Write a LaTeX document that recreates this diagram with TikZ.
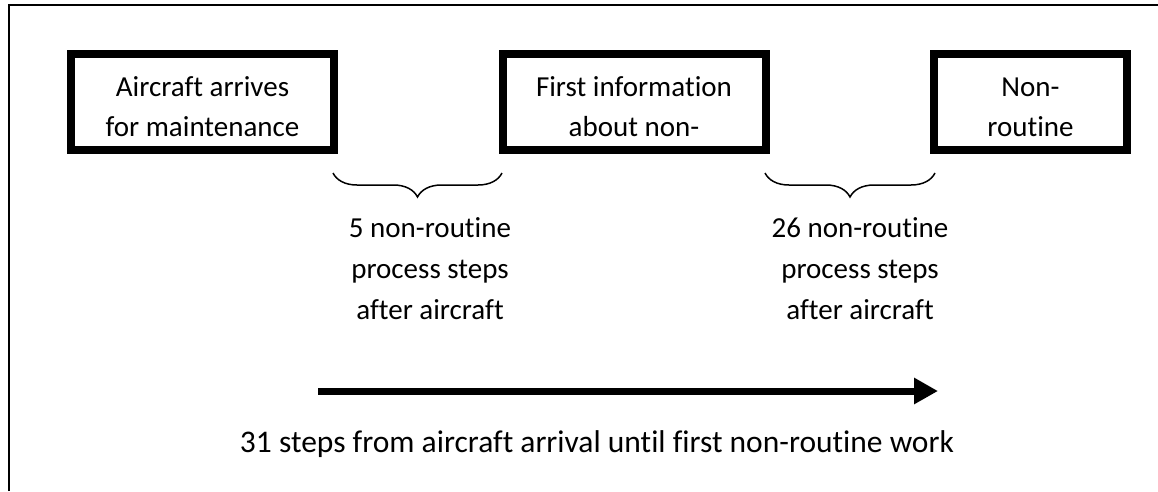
\documentclass[tikz,border=0pt]{standalone}
\usepackage{fontspec}
\setmainfont{Carlito}[Ligatures=NoCommon]
\usetikzlibrary{arrows.meta,decorations.pathreplacing}
\begin{document}
\begin{tikzpicture}[x=1pt, y=1pt,
    stepbox/.style={draw, line width=8pt, minimum width=263pt, minimum height=96pt, inner sep=0pt},
    boxtext/.style={align=center, inner sep=0pt, font=\fontsize{29}{40}\selectfont},
    bracetext/.style={align=center, inner sep=0pt, anchor=north, font=\fontsize{29}{41}\selectfont},
    stepbrace/.style={decorate, decoration={brace, mirror, amplitude=24pt}, line width=1.5pt}]
  \useasboundingbox (0, 0) rectangle (1158, -491);
  % frame
  \draw[line width=2pt] (9, -491) -- (9, -5) -- (1158, -5);
  % boxes
  \node[stepbox] (arrive) at (202.5, -102) {};
  \node[stepbox] (info) at (634, -102) {};
  \node[stepbox, minimum width=193pt] (work) at (1030.5, -102) {};
  \node[boxtext] (arrivetxt) at ([yshift=-5pt]arrive.center) {Aircraft arrives\\for maintenance};
  \node[boxtext] (infotxt) at ([yshift=-5pt]info.center) {First information\\about non-};
  \node[boxtext] (worktxt) at ([yshift=-5pt]work.center) {Non-\\routine};
  % braces
  \coordinate (b1l) at (333, -173);
  \coordinate (b1r) at (502, -173);
  \coordinate (b2l) at (765, -173);
  \coordinate (b2r) at (935, -173);
  \draw[stepbrace] (b1l) -- (b1r);
  \draw[stepbrace] (b2l) -- (b2r);
  \node[bracetext] (steps1) at (430, -217.5) {5 non-routine\\process steps\\after aircraft};
  \node[bracetext] (steps2) at (860, -217.5) {26 non-routine\\process steps\\after aircraft};
  % arrow
  \coordinate (tstart) at (318, -391);
  \coordinate (tend) at (938, -391);
  \draw[line width=7pt, -{Triangle[length=24pt, width=25pt]}] (tstart) -- (tend);
  \node[boxtext, anchor=base, font=\fontsize{31.5}{40}\selectfont] (total) at (597, -452) {31 steps from aircraft arrival until first non-routine work};
\end{tikzpicture}
\end{document}
